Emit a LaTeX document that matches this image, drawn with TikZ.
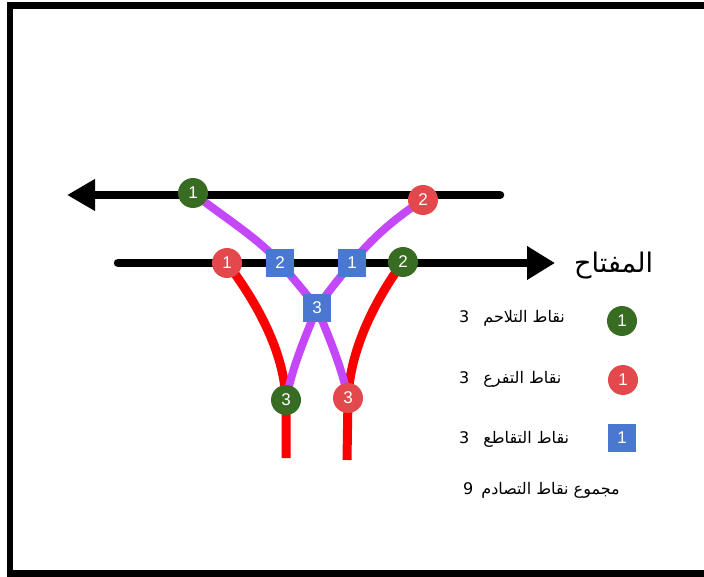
\documentclass[tikz,border=0pt]{standalone}
\usepackage{fontspec}
\setmainfont{Liberation Sans}
\newfontfamily\arabicfont[Script=Arabic]{DejaVu Sans}
\TeXXeTstate=1
\usetikzlibrary{arrows.meta,backgrounds}
\definecolor{purp}{RGB}{196,72,250}
\definecolor{rline}{RGB}{250,0,0}
\definecolor{gfill}{RGB}{56,108,34}
\definecolor{rfill}{RGB}{226,72,76}
\definecolor{bfill}{RGB}{74,120,208}
\begin{document}
\begin{tikzpicture}[x=1pt,y=-1pt,
  gdot/.style={circle,fill=gfill,minimum size=30pt,inner sep=0pt,text=white,font=\fontsize{17}{17}\selectfont},
  rdot/.style={circle,fill=rfill,minimum size=30pt,inner sep=0pt,text=white,font=\fontsize{17}{17}\selectfont},
  bsq/.style={rectangle,fill=bfill,minimum size=28pt,inner sep=0pt,text=white,font=\fontsize{17}{17}\selectfont},
  road/.style={line width=8.5pt,black},
  purpline/.style={line width=8pt,purp},
  redline/.style={line width=9pt,rline},
  lbl/.style={inner sep=0pt,font=\arabicfont\fontsize{16}{18}\selectfont}
]
\useasboundingbox (0,0) rectangle (704,577);
% frame
\fill[black] (7,2) rectangle (704,9);
\fill[black] (7,2) rectangle (13,577);
\fill[black] (7,570) rectangle (704,577);

% conflict point nodes
\node[gdot] (g1) at (193,193) {1};
\node[rdot] (r2) at (423,200) {2};
\node[rdot] (r1) at (227,263) {1};
\node[bsq]  (s2) at (280,263) {2};
\node[bsq]  (s1) at (352,263) {1};
\node[gdot] (g2) at (403,262) {2};
\node[bsq]  (s3) at (317,308) {3};
\node[gdot] (g3) at (286,400) {3};
\node[rdot] (r3) at (348,398) {3};

\coordinate (ta) at (500,195);
\coordinate (tb) at (67,195);
\coordinate (ba) at (118,263);
\coordinate (bb) at (555,263);
\coordinate (e1) at (286,458);
\coordinate (e2) at (347,460);

\begin{pgfonlayer}{background}
  \draw[road,line cap=round,-{Triangle[length=28pt,width=30pt]}] (ta) -- (tb);
  \draw[road,line cap=round,-{Triangle[length=28pt,width=32pt]}] (ba) -- (bb);
  % red branches
  \draw[redline] (r1.center) .. controls (255,300) and (284,350) .. (g3.center) -- (e1);
  \draw[redline] (g2.center) .. controls (375,300) and (350,350) .. (r3.center) -- (e2);
  % purple branches
  \draw[purpline] (g1.center) .. controls (225,218) and (258,238) .. (s2.center)
     .. controls (292,277) and (305,292) .. (s3.center)
     .. controls (330,340) and (342,368) .. (r3.center);
  \draw[purpline] (r2.center) .. controls (395,218) and (370,240) .. (s1.center)
     .. controls (340,277) and (328,292) .. (s3.center)
     .. controls (304,340) and (292,368) .. (g3.center);
\end{pgfonlayer}

% legend
\node[anchor=west,inner sep=0pt] (key) at (574,266) {\arabicfont\fontsize{27}{30}\selectfont\beginR المفتاح\endR};
\node[gdot] (lg) at (622,321) {1};
\node[rdot] (lr) at (623,380) {1};
\node[bsq]  (lb) at (622,438) {1};
\node[lbl,anchor=west] (t1) at (459,318) {\beginR نقاط التلاحم\hspace{14pt}3\endR};
\node[lbl,anchor=west] (t2) at (459,379) {\beginR نقاط التفرع\hspace{14pt}3\endR};
\node[lbl,anchor=west] (t3) at (459,439) {\beginR نقاط التقاطع\hspace{14pt}3\endR};
\node[lbl,anchor=west] (t4) at (463,490) {\beginR مجموع نقاط التصادم\hspace{8pt}9\endR};
\end{tikzpicture}
\end{document}
